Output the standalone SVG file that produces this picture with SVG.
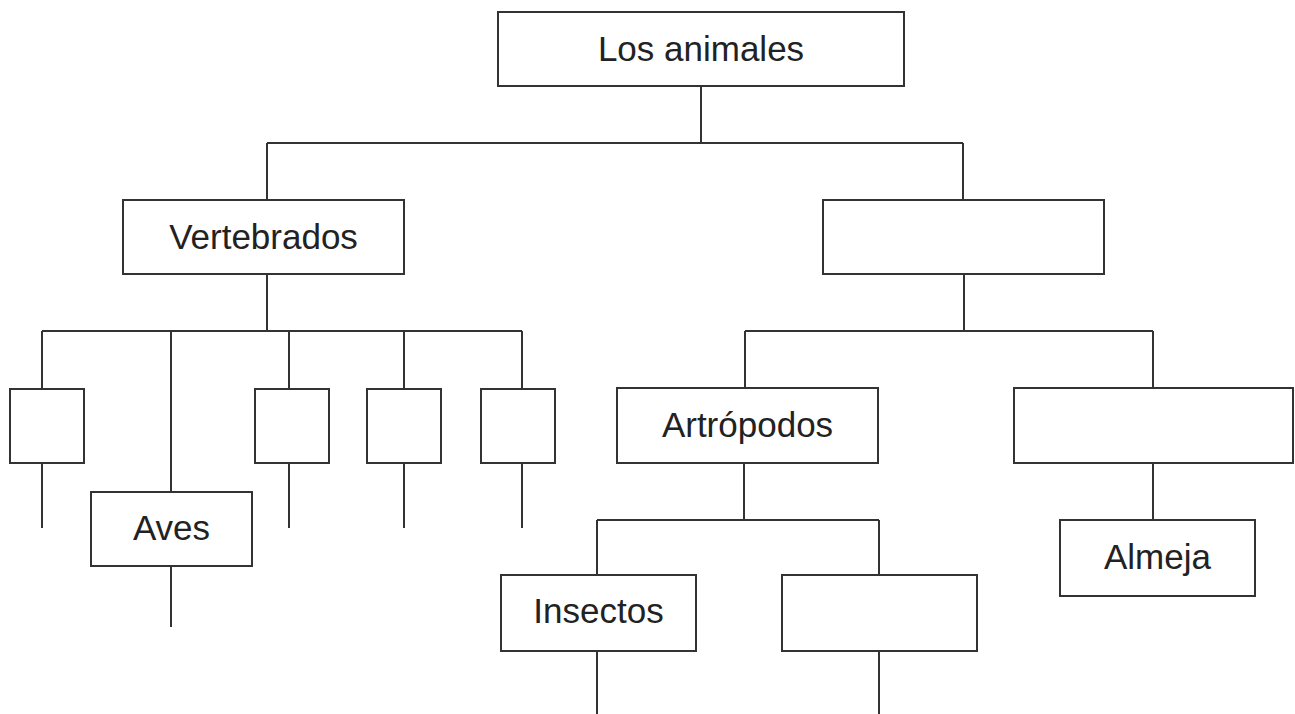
<svg xmlns="http://www.w3.org/2000/svg" width="1295" height="714" viewBox="0 0 1295 714">
<style>
.box{fill:#fff;stroke:#333;stroke-width:2}
.ln{fill:none;stroke:#333;stroke-width:2}
.t{font-family:"Liberation Sans",Arial,sans-serif;font-size:35px;fill:#222;text-anchor:middle}
</style>
<rect width="1295" height="714" fill="#fff"/>
<g id="connectors" class="ln">
<path d="M701 86V143M267 143H963M267 143V200M963 143V200"/>
<path d="M267 274V331M42 331H522M42 331V389M171 331V492M289 331V389M404 331V389M522 331V389"/>
<path d="M42 463V528M289 463V528M404 463V528M522 463V528M171 566V627"/>
<path d="M964 274V331M745 331H1153M745 331V388M1153 331V388"/>
<path d="M1153 463V520M744 463V520M597 520H879M597 520V575M879 520V575"/>
<path d="M597 651V714M879 651V714"/>
</g>
<g id="n-animales"><rect class="box" x="498" y="12" width="406" height="74"/><text class="t" x="701" y="61">Los animales</text></g>
<g id="n-vertebrados"><rect class="box" x="123" y="200" width="281" height="74"/><text class="t" x="263.5" y="249">Vertebrados</text></g>
<g id="n-blank-top"><rect class="box" x="823" y="200" width="281" height="74"/></g>
<g id="n-v1"><rect class="box" x="10" y="389" width="74" height="74"/></g>
<g id="n-aves"><rect class="box" x="91" y="492" width="161" height="74"/><text class="t" x="171.5" y="540">Aves</text></g>
<g id="n-v3"><rect class="box" x="255" y="389" width="74" height="74"/></g>
<g id="n-v4"><rect class="box" x="367" y="389" width="74" height="74"/></g>
<g id="n-v5"><rect class="box" x="481" y="389" width="74" height="74"/></g>
<g id="n-artropodos"><rect class="box" x="617" y="388" width="261" height="75"/><text class="t" x="747.5" y="437">Artrópodos</text></g>
<g id="n-blank-right"><rect class="box" x="1014" y="388" width="279" height="75"/></g>
<g id="n-almeja"><rect class="box" x="1060" y="520" width="195" height="76"/><text class="t" x="1157.5" y="569">Almeja</text></g>
<g id="n-insectos"><rect class="box" x="501" y="575" width="195" height="76"/><text class="t" x="598.5" y="623">Insectos</text></g>
<g id="n-blank-bottom"><rect class="box" x="782" y="575" width="195" height="76"/></g>
</svg>
